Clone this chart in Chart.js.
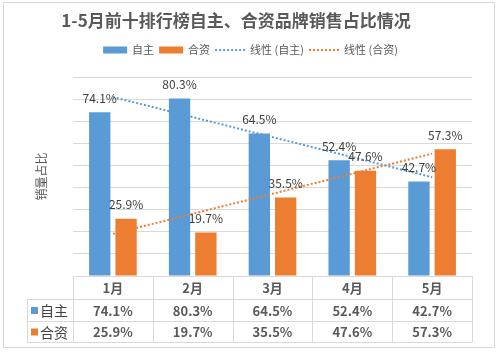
<!DOCTYPE html>
<html>
<head>
<meta charset="utf-8">
<script src="https://cdn.jsdelivr.net/npm/chart.js@4"></script>
<style>
  html, body { margin: 0; padding: 0; background: #fff; }
  canvas { display: block; }
</style>
</head>
<body>
<canvas id="chart" width="501" height="354"></canvas>
<script>
// 1-5月前十排行榜 自主 / 合资 销量占比
const months = ['1月', '2月', '3月', '4月', '5月'];
const ownBrand = [74.1, 80.3, 64.5, 52.4, 42.7];   // 自主
const jointBrand = [25.9, 19.7, 35.5, 47.6, 57.3]; // 合资
const yTicks = [0, 10, 20, 30, 40, 50, 60, 70, 80, 90];

const COLORS = {
    own: '#5b9bd5',
    joint: '#ed7d31',
    grid: '#d9d9d9',
    text: '#595959',
    label: '#404040',
};
const FONT = '"Noto Sans CJK SC", "Noto Sans", sans-serif';

// 线性趋势线（与 Excel 一样用最小二乘拟合）
function linearTrend(values) {
    const n = values.length;
    const mx = (n + 1) / 2;
    const my = values.reduce((a, b) => a + b, 0) / n;
    let num = 0, den = 0;
    values.forEach((v, i) => {
        num += (i + 1 - mx) * (v - my);
        den += (i + 1 - mx) * (i + 1 - mx);
    });
    const k = num / den;
    return values.map((_, i) => my + k * (i + 1 - mx));
}

const fmt = (v) => v.toFixed(1) + '%';

// 柱顶数据标签
const barLabels = {
    id: 'barLabels',
    afterDatasetsDraw(chart) {
        const { ctx } = chart;
        ctx.save();
        ctx.font = '12px ' + FONT;
        ctx.fillStyle = COLORS.label;
        ctx.textAlign = 'center';
        ctx.textBaseline = 'middle';
        [0, 1].forEach((di) => {
            const meta = chart.getDatasetMeta(di);
            meta.data.forEach((bar, i) => {
                ctx.fillText(fmt(chart.data.datasets[di].data[i]), bar.x, bar.y - 14);
            });
        });
        ctx.restore();
    },
};

// 图例 + 底部数据表 + 外框
const extras = {
    id: 'extras',
    afterDraw(chart) {
        const { ctx, chartArea } = chart;
        const x = chart.scales.x;
        ctx.save();

        // legend
        const items = [
            { text: '自主', color: COLORS.own, kind: 'box' },
            { text: '合资', color: COLORS.joint, kind: 'box' },
            { text: '线性 (自主)', color: COLORS.own, kind: 'line' },
            { text: '线性 (合资)', color: COLORS.joint, kind: 'line' },
        ];
        ctx.font = '11px ' + FONT;
        ctx.textBaseline = 'middle';
        ctx.textAlign = 'left';
        const keyW = (it) => (it.kind === 'box' ? 24 : 30);
        const widths = items.map((it) => keyW(it) + 5 + ctx.measureText(it.text).width);
        const gap = 5;
        const total = widths.reduce((a, b) => a + b, 0) + gap * (items.length - 1);
        let lx = chart.width / 2 - total / 2;
        const ly = 50;
        items.forEach((it, i) => {
            if (it.kind === 'box') {
                ctx.fillStyle = it.color;
                ctx.fillRect(lx, ly - 3.5, 24, 7);
            } else {
                ctx.strokeStyle = it.color;
                ctx.lineWidth = 2;
                ctx.setLineDash([2, 2]);
                ctx.beginPath();
                ctx.moveTo(lx, ly);
                ctx.lineTo(lx + 30, ly);
                ctx.stroke();
                ctx.setLineDash([]);
            }
            ctx.fillStyle = COLORS.text;
            ctx.fillText(it.text, lx + keyW(it) + 5, ly);
            lx += widths[i] + gap;
        });

        // data table
        const catW = (x.right - x.left) / months.length;
        const top = chartArea.bottom;
        const rows = [top, top + 23, top + 45, top + 66];
        const tableLeft = 27;
        ctx.strokeStyle = COLORS.grid;
        ctx.lineWidth = 1;
        ctx.beginPath();
        for (let r = 1; r < rows.length; r++) {
            ctx.moveTo(tableLeft, rows[r] + 0.5);
            ctx.lineTo(x.right, rows[r] + 0.5);
        }
        ctx.moveTo(tableLeft + 0.5, rows[1]);
        ctx.lineTo(tableLeft + 0.5, rows[3]);
        for (let c = 0; c <= months.length; c++) {
            const bx = Math.round(x.left + c * catW) + 0.5;
            ctx.moveTo(bx, top);
            ctx.lineTo(bx, rows[3]);
        }
        ctx.stroke();

        ctx.textAlign = 'center';
        ctx.textBaseline = 'middle';
        ctx.fillStyle = COLORS.text;
        ctx.font = 'bold 13px ' + FONT;
        months.forEach((m, i) => {
            ctx.fillText(m, x.getPixelForValue(i), (rows[0] + rows[1]) / 2 + 1);
        });
        const series = [
            { name: '自主', color: COLORS.own, data: ownBrand },
            { name: '合资', color: COLORS.joint, data: jointBrand },
        ];
        series.forEach((s, r) => {
            const cy = (rows[r + 1] + rows[r + 2]) / 2 + 1;
            ctx.fillStyle = s.color;
            ctx.fillRect(31, cy - 4, 7, 7);
            ctx.fillStyle = COLORS.label;
            ctx.textAlign = 'left';
            ctx.font = '14px ' + FONT;
            ctx.fillText(s.name, 40, cy);
            ctx.textAlign = 'center';
            ctx.fillStyle = COLORS.text;
            ctx.font = 'bold 13px ' + FONT;
            s.data.forEach((v, i) => ctx.fillText(fmt(v), x.getPixelForValue(i), cy));
        });

        // outer frame
        ctx.strokeStyle = COLORS.grid;
        ctx.strokeRect(3.5, 2.5, 491, 345);
        ctx.restore();
    },
};

new Chart(document.getElementById('chart'), {
    data: {
        labels: months,
        datasets: [
            { type: 'bar', label: '自主', data: ownBrand, backgroundColor: COLORS.own,
              categoryPercentage: 0.66, barPercentage: 0.81 },
            { type: 'bar', label: '合资', data: jointBrand, backgroundColor: COLORS.joint,
              categoryPercentage: 0.66, barPercentage: 0.81 },
            { type: 'line', label: '线性 (自主)', data: linearTrend(ownBrand), borderColor: COLORS.own,
              borderWidth: 2, borderDash: [2, 2], pointRadius: 0, fill: false, order: -1 },
            { type: 'line', label: '线性 (合资)', data: linearTrend(jointBrand), borderColor: COLORS.joint,
              borderWidth: 2, borderDash: [2, 2], pointRadius: 0, fill: false, order: -1 },
        ],
    },
    options: {
        responsive: false,
        animation: false,
        layout: { padding: { top: 0, right: 29, bottom: 0, left: 0 } },
        scales: {
            x: {
                grid: { display: false },
                border: { display: false },
                ticks: { display: false },
                afterFit: (s) => { s.height = 78; },
            },
            y: {
                min: 0,
                max: 90,
                afterBuildTicks: (s) => { s.ticks = yTicks.map((v) => ({ value: v })); },
                ticks: { display: false },
                grid: { color: COLORS.grid, drawTicks: false },
                border: { display: false },
                title: {
                    display: true,
                    text: '销量占比',
                    color: COLORS.text,
                    font: { family: FONT, size: 12 },
                    padding: { top: 34, bottom: 0 },
                },
                afterFit: (s) => { s.width = 73; },
            },
        },
        plugins: {
            legend: { display: false },
            tooltip: { enabled: false },
            title: {
                display: true,
                text: '1-5月前十排行榜自主、合资品牌销售占比情况',
                color: COLORS.text,
                font: { family: FONT, size: 17, weight: 'bold' },
                padding: { top: 10, bottom: 46.6 },
            },
        },
    },
    plugins: [barLabels, extras],
});
</script>
</body>
</html>
